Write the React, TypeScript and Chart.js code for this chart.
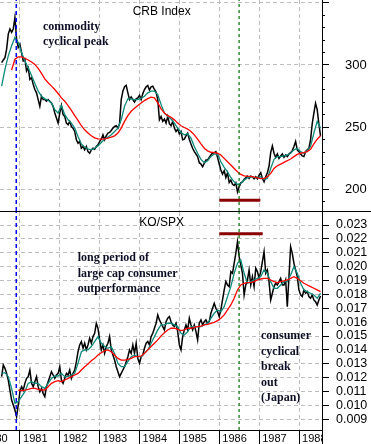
import React, { useEffect, useRef } from "react";
import { Chart, registerables } from "chart.js";

Chart.register(...registerables);

// ---------- data ----------
const yearTicks = [1980, 1981, 1982, 1983, 1984, 1985, 1986, 1987, 1988];
const xMin = 1980.499;
const xMax = 1988.577;
const sampleStart = 1980.54; // first observation (mid 1980)
const halfMonth = 1 / 24; // spacing of the price readings
const oneMonth = 1 / 12; // spacing of the moving-average readings

// CRB Index (price, short MA, long MA)
const crbClose = [
  301.9, 304.0, 305.9, 312.7, 324.8, 328.9, 326.2, 328.9, 338.3, 320.8,
  314.0, 316.7, 310.0, 303.2, 304.6, 295.1, 297.8, 288.4, 289.8, 284.4,
  280.3, 277.6, 272.2, 266.8, 274.9, 272.2, 272.2, 270.9, 272.2, 270.9,
  269.5, 266.8, 261.4, 257.4, 253.3, 261.4, 267.5, 260.1, 258.7, 253.3,
  252.0, 254.7, 250.6, 249.3, 246.6, 239.9, 237.2, 238.5, 233.1, 234.5,
  231.8, 234.5, 230.4, 229.1, 231.8, 233.1, 232.3, 234.5, 235.8, 238.5,
  240.4, 243.9, 239.9, 243.1, 245.3, 245.8, 247.4, 249.3, 250.6, 251.2,
  249.3, 252.8, 272.2, 279.0, 282.5, 283.6, 277.6, 272.2, 274.4, 272.2,
  270.2, 272.8, 273.6, 275.6, 272.2, 277.0, 280.3, 282.5, 283.6, 279.8,
  282.5, 283.0, 280.3, 278.2, 272.2, 256.0, 258.7, 254.7, 256.6, 253.3,
  258.7, 252.8, 251.2, 254.7, 249.3, 246.6, 248.5, 244.7, 246.6, 239.9,
  240.4, 243.1, 245.3, 240.4, 236.6, 233.1, 230.4, 228.5, 226.4, 221.5,
  220.4, 218.3, 221.0, 223.7, 223.7, 225.8, 227.7, 229.1, 229.6, 230.4,
  225.8, 220.4, 215.6, 212.3, 215.0, 209.6, 213.4, 205.5, 207.5, 204.2,
  203.2, 205.3, 198.0, 202.1, 205.3, 206.1, 208.0, 209.4, 210.7, 208.8,
  210.7, 210.2, 208.6, 210.2, 208.6, 211.5, 213.4, 208.8, 206.1, 210.2,
  213.4, 218.8, 229.6, 235.0, 229.1, 225.8, 228.5, 225.0, 226.9, 228.5,
  225.8, 227.7, 226.4, 228.5, 229.6, 231.2, 234.5, 238.5, 231.8, 230.4,
  228.5, 226.9, 226.4, 230.4, 231.8, 233.1, 239.9, 252.8, 261.4, 269.2,
  264.1, 252.8, 243.1,
];
const crbShortMa = [
  283.0, 296.5, 307.3, 315.4, 322.1, 318.1, 310.0, 303.2, 297.8, 291.6,
  285.2, 279.0, 274.9, 272.8, 271.7, 269.5, 264.1, 261.4, 267.5, 260.1,
  256.0, 253.3, 249.3, 242.6, 236.6, 233.9, 232.6, 231.8, 233.1, 235.0,
  237.7, 240.4, 242.0, 243.9, 246.6, 249.3, 256.0, 266.8, 272.8, 272.8,
  272.2, 272.2, 273.3, 274.9, 277.6, 279.0, 279.0, 276.3, 268.2, 261.4,
  258.7, 256.6, 253.3, 249.3, 245.8, 243.9, 244.7, 241.2, 234.5, 229.1,
  224.2, 221.5, 223.1, 226.4, 228.5, 228.5, 222.3, 217.7, 214.2, 209.6,
  206.1, 204.0, 204.8, 207.5, 209.4, 210.2, 209.6, 209.6, 210.2, 208.0,
  208.8, 216.9, 224.2, 226.4, 226.4, 226.9, 227.7, 229.1, 231.8, 233.1,
  230.4, 229.1, 231.2, 234.5, 245.3, 254.7, 249.3,
];
const crbLongMa = [
  null, null, null, 296.0, 304.6, 306.5, 306.5, 305.4, 304.0, 302.4,
  300.5, 297.3, 293.3, 288.9, 285.7, 283.0, 280.3, 277.1, 273.6, 270.9,
  267.4, 263.6, 259.3, 255.5, 251.2, 247.9, 245.3, 243.1, 241.5, 240.7,
  240.4, 240.7, 241.2, 242.0, 243.1, 245.3, 249.3, 254.7, 259.3, 262.8,
  265.2, 267.4, 269.5, 271.4, 273.0, 274.1, 273.6, 269.5, 264.7, 261.4,
  259.3, 257.9, 256.0, 253.3, 251.2, 249.8, 248.5, 246.6, 243.9, 240.4,
  236.6, 233.1, 231.0, 229.9, 229.6, 229.1, 227.7, 225.0, 222.3, 219.6,
  216.9, 214.2, 212.1, 211.0, 210.7, 210.5, 209.9, 209.4, 208.8, 208.8,
  210.2, 212.9, 216.9, 219.1, 220.4, 221.8, 223.1, 224.5, 226.4, 228.2,
  229.1, 229.6, 230.4, 232.3, 236.6, 240.4, 243.1,
];
const crbMin = 182.7;
const crbMax = 352.2;
const crbTickValues = [200, 250, 300, 350];
const crbTickLabels = [200, 250, 300];
const crbMinorTicks = [190, 200, 210, 220, 230, 240, 250, 260, 270, 280, 290, 300, 310, 320, 330, 340, 350];

// KO / SPX ratio (price, short MA, long MA)
const koRatio = [
  0.01207, 0.01291, 0.01267, 0.01231, 0.01183, 0.01111, 0.01039, 0.01003, 0.00967, 0.00919,
  0.01003, 0.01099, 0.01135, 0.01111, 0.01159, 0.01195, 0.01207, 0.01255, 0.01159, 0.01135,
  0.01171, 0.01207, 0.01135, 0.01099, 0.01123, 0.01087, 0.01063, 0.01135, 0.01171, 0.01207,
  0.01243, 0.01219, 0.01195, 0.01219, 0.01231, 0.01279, 0.01183, 0.01159, 0.01195, 0.01231,
  0.01219, 0.01255, 0.01195, 0.01231, 0.01255, 0.01315, 0.01387, 0.01436, 0.01460, 0.01412,
  0.01448, 0.01400, 0.01436, 0.01484, 0.01448, 0.01496, 0.01520, 0.01592, 0.01556, 0.01472,
  0.01400, 0.01436, 0.01375, 0.01424, 0.01448, 0.01496, 0.01400, 0.01363, 0.01327, 0.01279,
  0.01243, 0.01207, 0.01231, 0.01255, 0.01279, 0.01315, 0.01351, 0.01400, 0.01375, 0.01436,
  0.01375, 0.01448, 0.01339, 0.01303, 0.01351, 0.01363, 0.01412, 0.01448, 0.01460, 0.01436,
  0.01496, 0.01520, 0.01556, 0.01592, 0.01652, 0.01616, 0.01592, 0.01568, 0.01544, 0.01603,
  0.01628, 0.01640, 0.01603, 0.01580, 0.01568, 0.01592, 0.01532, 0.01436, 0.01400, 0.01496,
  0.01544, 0.01580, 0.01544, 0.01628, 0.01580, 0.01544, 0.01580, 0.01532, 0.01472, 0.01592,
  0.01616, 0.01580, 0.01603, 0.01616, 0.01592, 0.01603, 0.01664, 0.01700, 0.01736, 0.01700,
  0.01676, 0.01640, 0.01688, 0.01760, 0.01832, 0.01892, 0.01868, 0.01856, 0.01964, 0.01952,
  0.02024, 0.02096, 0.02180, 0.02072, 0.02012, 0.01952, 0.01796, 0.01868, 0.01904, 0.01976,
  0.01868, 0.01928, 0.01856, 0.01988, 0.01964, 0.01916, 0.01964, 0.02036, 0.02108, 0.01952,
  0.01976, 0.01892, 0.01760, 0.01808, 0.01856, 0.01880, 0.01868, 0.01892, 0.01916, 0.01868,
  0.01868, 0.01904, 0.01712, 0.01928, 0.02144, 0.02096, 0.02024, 0.01976, 0.01928, 0.01832,
  0.01796, 0.01784, 0.01832, 0.01808, 0.01820, 0.01784, 0.01772, 0.01796, 0.01760, 0.01748,
  0.01724, 0.01760, 0.01789,
];
const koShortMa = [
  0.01231, 0.01236, 0.01207, 0.01123, 0.01015, 0.01027, 0.01063, 0.01099, 0.01159, 0.01171,
  0.01159, 0.01159, 0.01135, 0.01123, 0.01159, 0.01195, 0.01212, 0.01212, 0.01231, 0.01207,
  0.01207, 0.01219, 0.01231, 0.01303, 0.01387, 0.01400, 0.01400, 0.01424, 0.01460, 0.01496,
  0.01448, 0.01424, 0.01412, 0.01424, 0.01375, 0.01303, 0.01279, 0.01279, 0.01315, 0.01351,
  0.01363, 0.01351, 0.01351, 0.01375, 0.01400, 0.01448, 0.01496, 0.01544, 0.01580, 0.01580,
  0.01592, 0.01592, 0.01580, 0.01568, 0.01520, 0.01508, 0.01532, 0.01568, 0.01568, 0.01568,
  0.01568, 0.01580, 0.01592, 0.01628, 0.01664, 0.01688, 0.01676, 0.01712, 0.01784, 0.01856,
  0.01952, 0.02024, 0.02048, 0.01952, 0.01880, 0.01892, 0.01904, 0.01916, 0.01928, 0.01976,
  0.01952, 0.01892, 0.01844, 0.01844, 0.01868, 0.01892, 0.01892, 0.01940, 0.02000, 0.01952,
  0.01880, 0.01832, 0.01820, 0.01808, 0.01796, 0.01772, 0.01808,
];
const koLongMa = [
  null, null, null, null, null, 0.01111, 0.01106, 0.01111, 0.01116, 0.01123,
  0.01123, 0.01116, 0.01111, 0.01111, 0.01135, 0.01159, 0.01171, 0.01178, 0.01171, 0.01183,
  0.01195, 0.01207, 0.01219, 0.01231, 0.01255, 0.01279, 0.01298, 0.01322, 0.01339, 0.01363,
  0.01380, 0.01394, 0.01400, 0.01387, 0.01363, 0.01339, 0.01327, 0.01327, 0.01332, 0.01339,
  0.01351, 0.01351, 0.01356, 0.01375, 0.01400, 0.01424, 0.01448, 0.01472, 0.01501, 0.01524,
  0.01544, 0.01556, 0.01556, 0.01548, 0.01539, 0.01544, 0.01556, 0.01556, 0.01563, 0.01568,
  0.01572, 0.01580, 0.01584, 0.01592, 0.01599, 0.01611, 0.01628, 0.01652, 0.01688, 0.01724,
  0.01772, 0.01832, 0.01868, 0.01880, 0.01885, 0.01887, 0.01892, 0.01904, 0.01911, 0.01916,
  0.01916, 0.01904, 0.01892, 0.01885, 0.01892, 0.01897, 0.01904, 0.01916, 0.01928, 0.01916,
  0.01899, 0.01880, 0.01868, 0.01856, 0.01844, 0.01832, 0.01820,
];
const koMin = 0.008229;
const koMax = 0.023937;
const koTickValues = [
  0.009, 0.010, 0.011, 0.012, 0.013, 0.014, 0.015, 0.016,
  0.017, 0.018, 0.019, 0.020, 0.021, 0.022, 0.023,
];

// markers
const commodityPeakDate = 1980.907;
const breakoutDate = 1986.497;
const crbBarDates = [1986.0, 1987.03];
const crbBarLevel = 191.4;
const koBarDates = [1986.0, 1987.09];
const koBarLevel = 0.02237;

// ---------- styling ----------
const SANS = '"Liberation Sans", Arial, sans-serif';
const SERIF = '"Liberation Serif", "Times New Roman", serif';
const GRID = "#bdbdbd";
const DASH = [4, 3];
const BLACK = "#000000";
const TEAL = "#0e8a7c";
const RED = "#ff0000";
const BAR = "#8b0000";

const toPoints = (values: (number | null)[], step: number) =>
  values.map((v, i) => ({ x: sampleStart + i * step, y: v }));

const zeroPadding = (s: any) => {
  s.paddingLeft = 0;
  s.paddingRight = 0;
  s.paddingTop = 0;
  s.paddingBottom = 0;
};

function markerDatasets(lo: number, hi: number, barDates: number[], barLevel: number) {
  return [
    {
      label: "bar",
      data: barDates.map((d) => ({ x: d, y: barLevel })),
      borderColor: BAR,
      borderWidth: 3,
      pointRadius: 0,
    },
    {
      label: "peak",
      data: [
        { x: commodityPeakDate, y: lo },
        { x: commodityPeakDate, y: hi },
      ],
      borderColor: "#0000ff",
      borderWidth: 1.5,
      borderDash: [4, 3],
      pointRadius: 0,
    },
    {
      label: "breakout",
      data: [
        { x: breakoutDate, y: lo },
        { x: breakoutDate, y: hi },
      ],
      borderColor: "#006e00",
      borderWidth: 1.2,
      borderDash: [3, 3],
      pointRadius: 0,
    },
  ];
}

function seriesDatasets(close: number[], shortMa: number[], longMa: (number | null)[]) {
  return [
    { label: "long", data: toPoints(longMa, oneMonth), borderColor: RED, borderWidth: 1.3, pointRadius: 0 },
    { label: "short", data: toPoints(shortMa, oneMonth), borderColor: TEAL, borderWidth: 1.3, pointRadius: 0 },
    { label: "close", data: toPoints(close, halfMonth), borderColor: BLACK, borderWidth: 1.5, pointRadius: 0 },
  ];
}

const topFrame = {
  id: "topFrame",
  afterDraw(chart: any) {
    const { ctx, chartArea: a, width } = chart;
    ctx.save();
    ctx.strokeStyle = "#000";
    ctx.lineWidth = 1;
    ctx.beginPath();
    ctx.moveTo(0, Math.round(a.bottom) + 0.5);
    ctx.lineTo(width, Math.round(a.bottom) + 0.5);
    ctx.stroke();
    ctx.restore();
  },
};

const bottomFrame = {
  id: "bottomFrame",
  afterDraw(chart: any) {
    const { ctx, chartArea: a, width, height } = chart;
    ctx.save();
    ctx.fillStyle = "#ffffff";
    ctx.fillRect(Math.round(a.right) + 1, Math.round(a.bottom) + 1, width, height);
    ctx.strokeStyle = "#000";
    ctx.lineWidth = 1;
    ctx.beginPath();
    ctx.moveTo(Math.round(a.right) + 0.5, a.bottom);
    ctx.lineTo(Math.round(a.right) + 0.5, height);
    ctx.stroke();
    ctx.restore();
  },
};

function baseOptions() {
  return {
    animation: false,
    responsive: false,
    devicePixelRatio: 1,
    layout: { padding: { left: 0, right: 4, top: 0, bottom: 0 } },
    plugins: { legend: { display: false }, tooltip: { enabled: false }, title: { display: false } },
    elements: { point: { radius: 0 }, line: { tension: 0, fill: false } },
    events: [],
  };
}

export default function App() {
  const topRef = useRef<HTMLCanvasElement>(null);
  const botRef = useRef<HTMLCanvasElement>(null);

  useEffect(() => {
    const top = new Chart(topRef.current as HTMLCanvasElement, {
      type: "line",
      data: {
        datasets: [
          ...markerDatasets(crbMin, crbMax, crbBarDates, crbBarLevel),
          ...seriesDatasets(crbClose, crbShortMa, crbLongMa),
        ] as any,
      },
      options: {
        ...baseOptions(),
        scales: {
          x: {
            type: "linear",
            position: "bottom",
            min: xMin,
            max: xMax,
            afterBuildTicks: (s: any) => {
              s.ticks = yearTicks.map((v) => ({ value: v }));
            },
            afterFit: (s: any) => {
              s.height = 1;
              zeroPadding(s);
            },
            ticks: { display: false },
            grid: { color: GRID, drawTicks: false },
            border: { color: "#000", dash: DASH },
          },
          yMinor: {
            type: "linear",
            position: "right",
            weight: 0,
            min: crbMin,
            max: crbMax,
            afterBuildTicks: (s: any) => {
              s.ticks = crbMinorTicks.map((v) => ({ value: v }));
            },
            afterFit: (s: any) => {
              s.width = 0;
              zeroPadding(s);
            },
            ticks: { display: false, autoSkip: false },
            grid: { drawOnChartArea: false, tickColor: "#000", tickLength: 3 },
            border: { display: false },
          },
          y: {
            type: "linear",
            position: "right",
            weight: 1,
            min: crbMin,
            max: crbMax,
            afterBuildTicks: (s: any) => {
              s.ticks = crbTickValues.map((v) => ({ value: v }));
            },
            afterFit: (s: any) => {
              s.width = 45;
              zeroPadding(s);
            },
            ticks: {
              autoSkip: false,
              color: "#000",
              padding: 16,
              font: { family: SANS, size: 13 },
              callback: (v: any) => (crbTickLabels.includes(Number(v)) ? String(v) : ""),
            },
            grid: { color: GRID, tickColor: "#000", tickLength: 7 },
            border: { color: "#000", dash: DASH },
          },
        },
      } as any,
      plugins: [topFrame],
    });

    const bottom = new Chart(botRef.current as HTMLCanvasElement, {
      type: "line",
      data: {
        datasets: [
          ...markerDatasets(koMin, koMax, koBarDates, koBarLevel),
          ...seriesDatasets(koRatio, koShortMa, koLongMa),
        ] as any,
      },
      options: {
        ...baseOptions(),
        scales: {
          x: {
            type: "linear",
            position: "bottom",
            min: xMin,
            max: xMax,
            afterBuildTicks: (s: any) => {
              s.ticks = yearTicks.map((v) => ({ value: v }));
            },
            afterFit: (s: any) => {
              s.height = 14;
              zeroPadding(s);
            },
            ticks: {
              autoSkip: false,
              maxRotation: 0,
              minRotation: 0,
              align: "start",
              padding: -12,
              color: "#000",
              font: { family: SANS, size: 11 },
              callback: (v: any) => " " + String(v),
            },
            grid: { color: GRID, tickColor: "#000", tickLength: 14 },
            border: { color: "#000", dash: DASH },
          },
          y: {
            type: "linear",
            position: "right",
            min: koMin,
            max: koMax,
            afterBuildTicks: (s: any) => {
              s.ticks = koTickValues.map((v) => ({ value: v }));
            },
            afterFit: (s: any) => {
              s.width = 45;
              zeroPadding(s);
            },
            ticks: {
              autoSkip: false,
              color: "#000",
              padding: 7,
              font: { family: SANS, size: 12.5 },
              callback: (v: any) => Number(v).toFixed(3),
            },
            grid: { color: GRID, tickColor: "#000", tickLength: 7 },
            border: { color: "#000", dash: DASH },
          },
        },
      } as any,
      plugins: [bottomFrame],
    });

    return () => {
      top.destroy();
      bottom.destroy();
    };
  }, []);

  const note: React.CSSProperties = {
    position: "absolute",
    fontFamily: SERIF,
    fontWeight: "bold",
    fontSize: 12,
    color: "#0d0d26",
    whiteSpace: "nowrap",
    pointerEvents: "none",
  };
  const title: React.CSSProperties = {
    position: "absolute",
    fontFamily: SANS,
    fontSize: 12,
    lineHeight: "14px",
    color: "#000",
    whiteSpace: "nowrap",
  };

  return (
    <div style={{ position: "absolute", left: 0, top: 0, width: 371, height: 444, background: "#fff", overflow: "hidden" }}>
      <canvas ref={topRef} width={371} height={212} style={{ position: "absolute", left: 0, top: 0, display: "block" }} />
      <canvas ref={botRef} width={371} height={232} style={{ position: "absolute", left: 0, top: 212, display: "block" }} />
      <div style={{ ...title, left: 132.7, top: 3.7 }}>CRB Index</div>
      <div style={{ ...title, left: 139.3, top: 214.7 }}>KO/SPX</div>
      <div style={{ ...note, left: 43, top: 19.2, lineHeight: "15px" }}>
        commodity
        <br />
        cyclical peak
      </div>
      <div style={{ ...note, left: 77.7, top: 249.9, lineHeight: "15.7px" }}>
        long period of
        <br />
        large cap consumer
        <br />
        outperformance
      </div>
      <div style={{ ...note, left: 261, top: 328.3, lineHeight: "15.4px" }}>
        consumer
        <br />
        cyclical
        <br />
        break
        <br />
        out
        <br />
        (Japan)
      </div>
    </div>
  );
}
